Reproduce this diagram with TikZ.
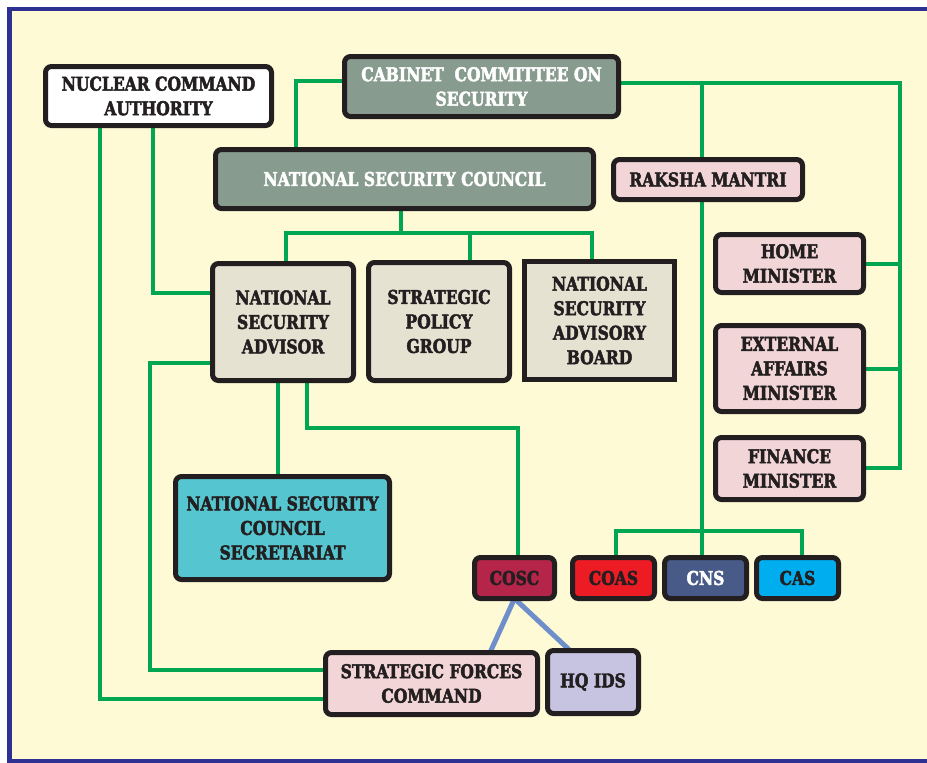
\documentclass[tikz,border=0pt]{standalone}
\usepackage{fontspec}
\newfontfamily\bx{DejaVu Serif Condensed Bold}[FakeStretch=0.91,FakeBold=2.5]
\definecolor{cream}{HTML}{FEFAD6}
\definecolor{frame}{HTML}{2E3192}
\definecolor{lg}{HTML}{00A651}
\definecolor{lb}{HTML}{6F8FCB}
\definecolor{boxline}{HTML}{231F20}
\definecolor{txt}{HTML}{231F20}
\definecolor{gg}{HTML}{889B8F}
\definecolor{beige}{HTML}{E6E2D2}
\definecolor{pinkb}{HTML}{F2D5D7}
\definecolor{teal}{HTML}{55C5D0}
\definecolor{coscc}{HTML}{B5254A}
\definecolor{coasc}{HTML}{ED1C24}
\definecolor{cnsc}{HTML}{485A87}
\definecolor{casc}{HTML}{00AEEF}
\definecolor{hqc}{HTML}{C6C4E0}
\pgfdeclarelayer{bg}
\pgfdeclarelayer{conn}
\pgfsetlayers{bg,conn,main}
\tikzset{
  box/.style={draw=boxline, line width=5pt, rounded corners=6pt, align=center,
    inner sep=0pt, outer sep=0pt, font=\bx\fontsize{19}{24.5}\selectfont, text=txt},
  sqbox/.style={box, sharp corners},
  link/.style={draw=lg, line width=4pt},
  blink/.style={draw=lb, line width=5pt},
}
\begin{document}
\begin{tikzpicture}[x=1pt,y=-1pt]
\useasboundingbox (0,0) rectangle (927,763);
\begin{pgfonlayer}{bg}
\fill[white] (0,0) rectangle (927,763);
\fill[cream] (9.5,9) rectangle (927,761);
\draw[frame, line width=4.5pt] (927,9) -- (9.5,9) -- (9.5,761) -- (927,761);
\end{pgfonlayer}

% nodes
\node[box, fill=white, minimum width=226, minimum height=59] (nca) at (158.5,96) {NUCLEAR COMMAND\\AUTHORITY};
\node[box, fill=gg, text=white, minimum width=274, minimum height=60] (ccs) at (481.5,86.5) {CABINET\ \ COMMITTEE ON\\SECURITY};
\node[box, fill=gg, text=white, minimum width=378, minimum height=59] (nsc) at (404.5,179) {NATIONAL SECURITY COUNCIL};
\node[box, fill=pinkb, minimum width=189, minimum height=40] (rm) at (708,179.5) {RAKSHA MANTRI};
\node[box, fill=pinkb, minimum width=148, minimum height=58] (home) at (789.5,263.5) {HOME\\MINISTER};
\node[box, fill=pinkb, minimum width=148, minimum height=86] (ext) at (789.5,368.5) {EXTERNAL\\AFFAIRS\\MINISTER};
\node[box, fill=pinkb, minimum width=148, minimum height=62] (fin) at (789.5,468.5) {FINANCE\\MINISTER};
\node[box, fill=beige, minimum width=141, minimum height=117] (nsa) at (283,322) {NATIONAL\\SECURITY\\ADVISOR};
\node[box, fill=beige, minimum width=141, minimum height=118] (spg) at (439,321.5) {STRATEGIC\\POLICY\\GROUP};
\node[sqbox, fill=beige, minimum width=150, minimum height=118] (nsab) at (599.5,320.5) {NATIONAL\\SECURITY\\ADVISORY\\BOARD};
\node[box, fill=teal, minimum width=214, minimum height=103] (nscs) at (282.5,528) {NATIONAL SECURITY\\COUNCIL\\SECRETARIAT};
\node[box, fill=coscc, minimum width=80, minimum height=41] (cosc) at (514.5,578) {COSC};
\node[box, fill=coasc, minimum width=82, minimum height=41] (coas) at (613.5,578) {COAS};
\node[box, fill=cnsc, text=white, minimum width=82, minimum height=41] (cns) at (705.5,578) {CNS};
\node[box, fill=casc, minimum width=82, minimum height=41] (cas) at (797.5,578) {CAS};
\node[box, fill=pinkb, minimum width=212, minimum height=62] (sfc) at (431.5,683.5) {STRATEGIC FORCES\\COMMAND};
\node[box, fill=hqc, minimum width=91, minimum height=63] (hq) at (593,682) {HQ IDS};

% bend coordinates
\coordinate (b1) at (296,81);
\coordinate (r1) at (900,83);
\coordinate (r2) at (900,468);
\coordinate (rk) at (702,83);
\coordinate (rk2) at (702,531);
\coordinate (n1) at (401,233);
\coordinate (d1) at (286,233);
\coordinate (d2) at (470,233);
\coordinate (d3) at (592,233);
\coordinate (p1) at (100,699);
\coordinate (p2) at (153,293);
\coordinate (p3) at (150,363);
\coordinate (p4) at (150,670);
\coordinate (p5) at (278,400);
\coordinate (p6) at (307,428);
\coordinate (p7) at (518,428);
\coordinate (q1) at (490,650);
\coordinate (q2) at (570,650);

\begin{pgfonlayer}{conn}
% CCS - NSC
\draw[link] (ccs.west |- b1) -- (b1) -- (b1 |- nsc.north);
% CCS - ministers
\draw[link] (ccs.east |- r1) -- (r1) -- (r2) -- (fin.east |- r2);
\draw[link] (home.east) -- (home.east -| r1);
\draw[link] (ext.east) -- (ext.east -| r1);
% Raksha Mantri
\draw[link] (rk) -- (rk |- rm.north);
\draw[link] (rm.south -| rk) -- (rk2);
\draw[link] (coas.north -| 616,0) -- (616,531) -- (802,531) -- (cas.north -| 802,0);
\draw[link] (rk2) -- (cns.north -| rk);
% NSC bus
\draw[link] (nsc.south -| n1) -- (n1);
\draw[link] (nsa.north -| d1) -- (d1) -- (d3) -- (nsab.north -| d3);
\draw[link] (d2) -- (spg.north -| d2);
% NCA
\draw[link] (nca.south -| p1) -- (p1) -- (sfc.west |- p1);
\draw[link] (nca.south -| p2) -- (p2) -- (nsa.west |- p2);
% NSA
\draw[link] (nsa.west |- p3) -- (p3) -- (p4) -- (sfc.west |- p4);
\draw[link] (nsa.south -| p5) -- (nscs.north -| p5);
\draw[link] (nsa.south -| p6) -- (p6) -- (p7) -- (cosc.north -| p7);
% COSC
\draw[blink] (cosc.south) -- (sfc.north -| q1);
\draw[blink] (cosc.south) -- (hq.north -| q2);
\end{pgfonlayer}
\end{tikzpicture}
\end{document}
